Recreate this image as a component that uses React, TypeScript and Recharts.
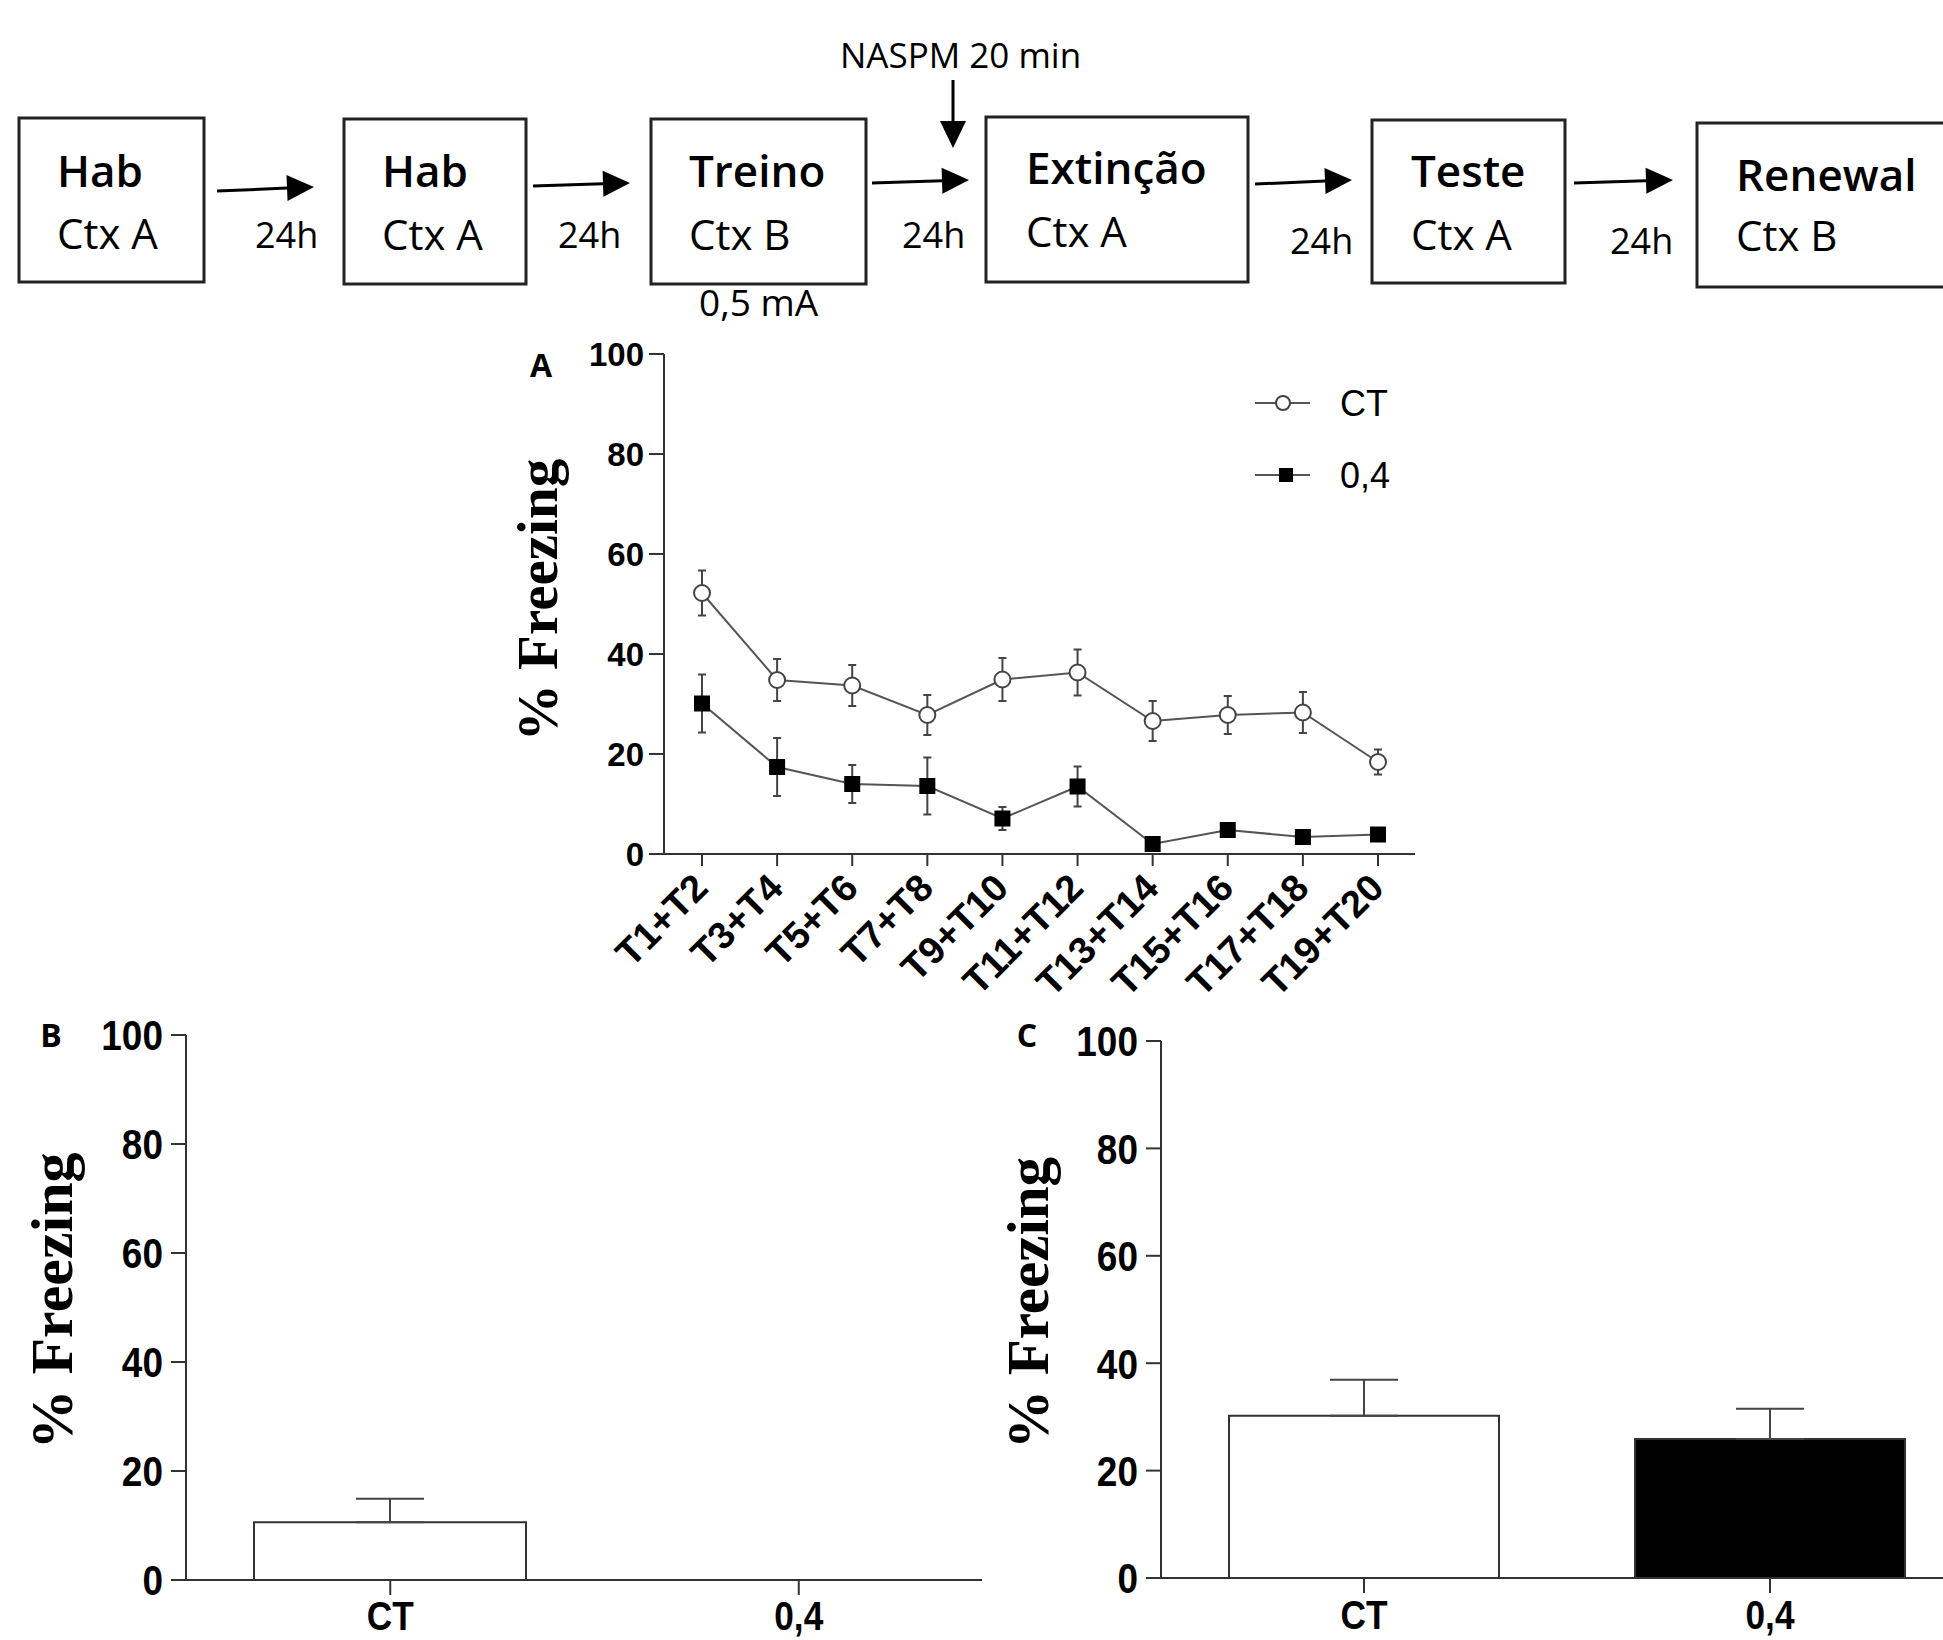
import React from "react";
import {
  LineChart,
  Line,
  BarChart,
  Bar,
  Cell,
  XAxis,
  YAxis,
  ErrorBar,
  Legend,
} from "recharts";

// Extinction session (panel A)
const trials = ["T1+T2", "T3+T4", "T5+T6", "T7+T8", "T9+T10", "T11+T12", "T13+T14", "T15+T16", "T17+T18", "T19+T20"];
const ctMean = [52.2, 34.8, 33.7, 27.8, 34.9, 36.3, 26.6, 27.8, 28.3, 18.4];
const ctSem = [4.5, 4.2, 4.1, 4.0, 4.3, 4.6, 4.0, 3.8, 4.1, 2.5];
const naspmMean = [30.1, 17.4, 14.0, 13.6, 7.1, 13.5, 2.0, 4.8, 3.4, 3.9];
const naspmSem = [5.8, 5.8, 3.8, 5.7, 2.3, 4.0, 1.0, 1.0, 1.0, 1.0];

// Test (panel B) and renewal (panel C)
const groups = ["CT", "0,4"];
const testMean = [10.6, 0];
const testSem = [4.3, 0];
const renewalMean = [30.2, 25.9];
const renewalSem = [6.7, 5.6];

const yTicks = [0, 20, 40, 60, 80, 100];

const SANS = "'Liberation Sans', Arial, sans-serif";
const SERIF = "'Liberation Serif', 'Times New Roman', serif";
const CAL = "'Open Sans', sans-serif";
const BAR_FILLS = ["#ffffff", "#000000"];
const INK = "#333";

const extinctionData = trials.map((t, i) => ({
  trial: t,
  ct: ctMean[i],
  ctErr: ctSem[i],
  naspm: naspmMean[i],
  naspmErr: naspmSem[i],
}));
const testData = groups.map((g, i) => ({ group: g, value: testMean[i], err: [0, testSem[i]] }));
const renewalData = groups.map((g, i) => ({ group: g, value: renewalMean[i], err: [0, renewalSem[i]] }));

// protocol diagram at the top
const boxes = [
  { x: 19, y: 118, w: 185, h: 164, t1: "Hab", t2: "Ctx A", tx: 57, b1: 187, b2: 249 },
  { x: 344, y: 119, w: 182, h: 165, t1: "Hab", t2: "Ctx A", tx: 382, b1: 187, b2: 250 },
  { x: 651, y: 119, w: 215, h: 165, t1: "Treino", t2: "Ctx B", tx: 689, b1: 187, b2: 250 },
  { x: 986, y: 117, w: 262, h: 165, t1: "Extinção", t2: "Ctx A", tx: 1026, b1: 184, b2: 247 },
  { x: 1372, y: 120, w: 193, h: 163, t1: "Teste", t2: "Ctx A", tx: 1411, b1: 187, b2: 250 },
  { x: 1697, y: 123, w: 290, h: 164, t1: "Renewal", t2: "Ctx B", tx: 1736, b1: 191, b2: 251 },
];
const arrows = [
  [217, 191, 314, 187],
  [533, 186, 630, 183],
  [872, 183, 969, 180],
  [1255, 184, 1352, 180],
  [1574, 183, 1673, 180],
  [953, 80, 953, 148],
];
const delays = [
  [255, 248],
  [558, 248],
  [902, 248],
  [1290, 254],
  [1610, 254],
];

const Arrow = ({ a }: { a: number[] }) => {
  const [x1, y1, x2, y2] = a;
  const len = Math.hypot(x2 - x1, y2 - y1);
  const ux = (x2 - x1) / len;
  const uy = (y2 - y1) / len;
  const bx = x2 - ux * 27;
  const by = y2 - uy * 27;
  const pts = `${x2},${y2} ${bx - uy * 13},${by + ux * 13} ${bx + uy * 13},${by - ux * 13}`;
  return (
    <g>
      <line x1={x1} y1={y1} x2={bx} y2={by} stroke="#000" strokeWidth={3} />
      <polygon points={pts} fill="#000" />
    </g>
  );
};

const Protocol = () => (
  <svg width={1943} height={330} style={{ position: "absolute", left: 0, top: 0 }}>
    {boxes.map((b) => (
      <g key={b.tx}>
        <rect x={b.x} y={b.y} width={b.w} height={b.h} fill="#fff" stroke="#222" strokeWidth={3} />
        <text x={b.tx} y={b.b1} fontFamily={CAL} fontSize={44} fontWeight={600}>
          {b.t1}
        </text>
        <text x={b.tx} y={b.b2} fontFamily={CAL} fontSize={42}>
          {b.t2}
        </text>
      </g>
    ))}
    {arrows.map((a, i) => (
      <Arrow key={i} a={a} />
    ))}
    {delays.map((d, i) => (
      <text key={i} x={d[0]} y={d[1]} fontFamily={CAL} fontSize={36}>
        24h
      </text>
    ))}
    <text x={840} y={68} fontFamily={CAL} fontSize={35}>
      NASPM 20 min
    </text>
    <text x={699} y={316} fontFamily={CAL} fontSize={37}>
      0,5 mA
    </text>
  </svg>
);

const AxisTitle = (p: any) => (
  <g>
    <text
      x={p.px}
      y={p.py}
      transform={`rotate(-90, ${p.px}, ${p.py})`}
      textAnchor="middle"
      fontFamily={SERIF}
      fontWeight={700}
      fontSize={p.size}
      fill="#000"
    >
      % Freezing
    </text>
    <text x={p.lx} y={p.ly} textAnchor="middle" fontFamily={CAL} fontWeight={700} fontSize={32} fill="#000">
      {p.letter}
    </text>
  </g>
);

const SlantTick = (props: any) => {
  const { x, y, payload } = props;
  return (
    <g transform={`translate(${x},${y})`}>
      <text
        transform="translate(8,22) rotate(-45)"
        textAnchor="end"
        fontFamily={SANS}
        fontWeight={700}
        fontSize={38}
        fill="#000"
      >
        {payload.value}
      </text>
    </g>
  );
};

// condensed bold labels (GraphPad style) for the bar panels
const NarrowTick = (props: any) => {
  const { x, y, payload, side } = props;
  const isY = side === "y";
  return (
    <g transform={`translate(${x},${y}) scale(0.86,1)`}>
      <text
        x={0}
        y={0}
        dy={isY ? "0.36em" : "0.71em"}
        textAnchor={isY ? "end" : "middle"}
        fontFamily={SANS}
        fontWeight={700}
        fontSize={isY ? 43 : 41}
        fill="#000"
      >
        {payload.value}
      </text>
    </g>
  );
};

const SquareDot = (props: any) => {
  const { cx, cy, index } = props;
  return <rect key={`sq-${index}`} x={cx - 8} y={cy - 8} width={16} height={16} fill="#000" />;
};

const LegendBox = ({ payload }: any) => (
  <svg width={220} height={140}>
    {(payload || []).map((entry: any) => {
      const open = entry.dataKey === "ct";
      const cy = open ? 33 : 105;
      return (
        <g key={entry.value}>
          <line x1={15} x2={70} y1={cy} y2={cy} stroke="#555" strokeWidth={2} />
          {open ? (
            <circle cx={43} cy={cy} r={7} fill="#fff" stroke="#444" strokeWidth={2} />
          ) : (
            <rect x={39} y={cy - 7} width={14} height={14} fill="#000" />
          )}
          <text x={100} y={cy} dy="0.36em" fontSize={36} fontFamily={SANS} fill="#000">
            {entry.value}
          </text>
        </g>
      );
    })}
  </svg>
);

const yTickA = { fontSize: 33, fontWeight: 700, fill: "#000", fontFamily: SANS };
const axisStyle = { stroke: INK, strokeWidth: 2 };

export default function App() {
  return (
    <div
      style={{
        position: "absolute",
        left: 0,
        top: 0,
        width: 1943,
        height: 1640,
        overflow: "hidden",
        background: "#fff",
      }}
    >
      <Protocol />

      {/* A: extinction */}
      <div style={{ position: "absolute", left: 440, top: 320 }}>
        <LineChart width={1000} height={690} data={extinctionData} margin={{ top: 34, right: 25, bottom: 6, left: 0 }}>
          <XAxis
            dataKey="trial"
            padding={{ left: 38, right: 37 }}
            height={150}
            interval={0}
            tickSize={12}
            tickMargin={2}
            tick={<SlantTick />}
            axisLine={axisStyle}
            tickLine={axisStyle}
          />
          <YAxis
            domain={[0, 100]}
            ticks={yTicks}
            width={224}
            tickSize={15}
            tickMargin={5}
            tick={yTickA}
            axisLine={axisStyle}
            tickLine={axisStyle}
            label={<AxisTitle px={117} py={280} size={57} letter="A" lx={101} ly={57} />}
          />
          <Legend
            layout="vertical"
            verticalAlign="middle"
            align="center"
            wrapperStyle={{ left: 800, top: 50, width: 220 }}
            content={<LegendBox />}
          />
          <Line
            name="CT"
            dataKey="ct"
            type="linear"
            stroke="#555"
            strokeWidth={2}
            dot={{ r: 8, fill: "#fff", stroke: "#444", strokeWidth: 2 }}
            activeDot={false}
            isAnimationActive={false}
          >
            <ErrorBar dataKey="ctErr" direction="y" width={4} stroke="#444" strokeWidth={2} />
          </Line>
          <Line
            name="0,4"
            dataKey="naspm"
            type="linear"
            stroke="#555"
            strokeWidth={2}
            dot={SquareDot}
            activeDot={false}
            isAnimationActive={false}
          >
            <ErrorBar dataKey="naspmErr" direction="y" width={4} stroke="#444" strokeWidth={2} />
          </Line>
        </LineChart>
      </div>

      {/* B: test */}
      <div style={{ position: "absolute", left: 0, top: 1000 }}>
        <BarChart width={1010} height={640} data={testData} margin={{ top: 35, right: 7, bottom: 5, left: 0 }}>
          <XAxis
            dataKey="group"
            height={55}
            tickSize={15}
            tickMargin={6}
            tick={<NarrowTick side="x" />}
            axisLine={{ ...axisStyle, strokeDasharray: "796 200" }}
            tickLine={axisStyle}
          />
          <YAxis
            domain={[0, 100]}
            ticks={yTicks}
            width={186}
            tickSize={15}
            tickMargin={8}
            tick={<NarrowTick side="y" />}
            axisLine={axisStyle}
            tickLine={axisStyle}
            label={<AxisTitle px={72} py={301} size={60} letter="B" lx={51} ly={47} />}
          />
          <Bar dataKey="value" barSize={272} stroke={INK} strokeWidth={2} isAnimationActive={false}>
            {testData.map((d, i) => (
              <Cell key={d.group} fill={BAR_FILLS[i]} />
            ))}
            <ErrorBar dataKey="err" direction="y" width={34} stroke="#444" strokeWidth={2} />
          </Bar>
        </BarChart>
      </div>

      {/* C: renewal */}
      <div style={{ position: "absolute", left: 980, top: 1000 }}>
        <BarChart width={1000} height={640} data={renewalData} margin={{ top: 41, right: 7, bottom: 7, left: 0 }}>
          <XAxis
            dataKey="group"
            height={55}
            tickSize={15}
            tickMargin={7}
            tick={<NarrowTick side="x" />}
            axisLine={axisStyle}
            tickLine={axisStyle}
          />
          <YAxis
            domain={[0, 100]}
            ticks={yTicks}
            width={181}
            tickSize={15}
            tickMargin={8}
            tick={<NarrowTick side="y" />}
            axisLine={axisStyle}
            tickLine={axisStyle}
            label={<AxisTitle px={68} py={303} size={59} letter="C" lx={47} ly={47} />}
          />
          <Bar dataKey="value" barSize={270} stroke={INK} strokeWidth={2} isAnimationActive={false}>
            {renewalData.map((d, i) => (
              <Cell key={d.group} fill={BAR_FILLS[i]} />
            ))}
            <ErrorBar dataKey="err" direction="y" width={34} stroke="#444" strokeWidth={2} />
          </Bar>
        </BarChart>
      </div>
    </div>
  );
}
